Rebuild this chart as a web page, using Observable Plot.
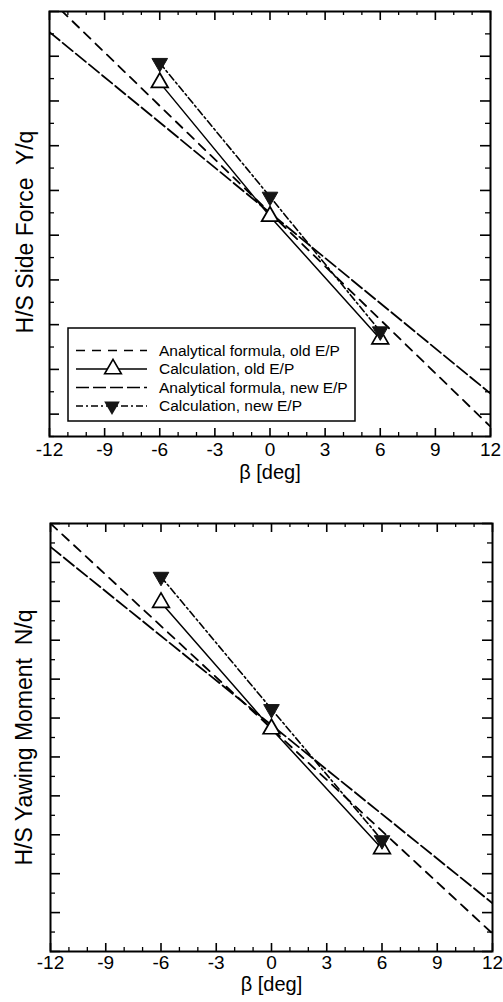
<!DOCTYPE html>
<html><head><meta charset="utf-8">
<script src="https://cdn.jsdelivr.net/npm/d3@7"></script>
<script src="https://cdn.jsdelivr.net/npm/@observablehq/plot@0.6"></script>
<style>
body{margin:0;background:#fff;overflow:hidden;}
#chart{width:503px;}
svg{display:block;}
svg text{white-space:pre;}
</style></head><body><div id="chart"></div>
<script>
// ---- data (arbitrary y units; y axis has no labels) ----
const beta = [-6, 0, 6];
const betaRange = [-12, 12];
const sideCalcOld = [7.41, 4.42, 1.68];
const sideCalcNew = [7.85, 4.86, 1.85];
const sideAnaOld = [9.28, -0.28];
const sideAnaNew = [8.54, 0.46];
const yawCalcOld = [8.97, 5.72, 2.64];
const yawCalcNew = [9.63, 6.23, 2.86];
const yawAnaOld = [11.0, 0.46];
const yawAnaNew = [10.40, 1.24];
const xTicks = [-12, -9, -6, -3, 0, 3, 6, 9, 12];
const xMinorTicks = [-11, -10, -8, -7, -5, -4, -2, -1, 1, 2, 4, 5, 7, 8, 10, 11];
const sideMajor = [0, 1, 2, 3, 4, 5, 6, 7, 8, 9];
const sideMinor = [-0.5, 0.5, 1.5, 2.5, 3.5, 4.5, 5.5, 6.5, 7.5, 8.5];
const yawMajor = [0, 1, 2, 3, 4, 5, 6, 7, 8, 9, 10, 11];
const yawMinor = [0.5, 1.5, 2.5, 3.5, 4.5, 5.5, 6.5, 7.5, 8.5, 9.5, 10.5];
const seriesNames = ["Analytical formula, old E/P", "Calculation, old E/P", "Analytical formula, new E/P", "Calculation, new E/P"];
const xLabel = "β [deg]";
const sideLabel = "H/S Side Force  Y/q";
const yawLabel = "H/S Yawing Moment  N/q";

const FONT = "'Liberation Sans', Arial, Helvetica, sans-serif";
const DASH_OLD = "9,7";
const DASH_NEW = "13,4";
const DASH_DOT = "7,3,2,3";

function panel(o) {
  const W = 503;
  const innerH = o.height - o.mt - o.mb;
  const innerW = W - o.ml - o.mr;
  const pts = (vals) => beta.map((b, i) => ({b, v: vals[i]}));
  const ends = (vals) => betaRange.map((b, i) => ({b, v: vals[i]}));
  return Plot.plot({
    width: W, height: o.height,
    marginTop: o.mt, marginBottom: o.mb, marginLeft: o.ml, marginRight: o.mr,
    style: {fontFamily: FONT, fontSize: "19px", color: "black", background: "white", overflow: "visible"},
    x: {domain: [-12, 12]},
    y: {domain: o.domain},
    marks: [
      Plot.line(ends(o.anaOld), {x: "b", y: "v", stroke: "black", strokeWidth: 1.8, strokeDasharray: DASH_OLD, clip: true}),
      Plot.line(ends(o.anaNew), {x: "b", y: "v", stroke: "black", strokeWidth: 1.8, strokeDasharray: DASH_NEW, clip: true}),
      Plot.line(pts(o.calcOld), {x: "b", y: "v", stroke: "black", strokeWidth: 1.5}),
      Plot.line(pts(o.calcNew), {x: "b", y: "v", stroke: "black", strokeWidth: 1.6, strokeDasharray: DASH_DOT}),
      Plot.dot(pts(o.calcOld), {x: "b", y: "v", symbol: "triangle", r: 6.2, fill: "white", stroke: "black", strokeWidth: 1.7}),
      Plot.dot(pts(o.calcNew), {x: "b", y: "v", symbol: "triangle", rotate: 180, r: 5.8, fill: "#151515", stroke: "#151515", strokeWidth: 1}),
      // inward ticks on all four sides
      Plot.tickX(xTicks, {x: d => d, stroke: "black", strokeWidth: 1.6, insetTop: innerH - 8}),
      Plot.tickX(xMinorTicks, {x: d => d, stroke: "black", strokeWidth: 1.3, insetTop: innerH - 4}),
      Plot.tickX(xTicks, {x: d => d, stroke: "black", strokeWidth: 1.6, insetBottom: innerH - 9}),
      Plot.tickX(xMinorTicks, {x: d => d, stroke: "black", strokeWidth: 1.3, insetBottom: innerH - 4}),
      Plot.tickY(o.major, {y: d => d, stroke: "black", strokeWidth: 1.6, insetRight: innerW - 10}),
      Plot.tickY(o.minor, {y: d => d, stroke: "black", strokeWidth: 1.3, insetRight: innerW - 5}),
      Plot.tickY(o.major, {y: d => d, stroke: "black", strokeWidth: 1.6, insetLeft: innerW - 10}),
      Plot.tickY(o.minor, {y: d => d, stroke: "black", strokeWidth: 1.3, insetLeft: innerW - 5}),
      Plot.frame({stroke: "black", strokeWidth: 2}),
      Plot.axisX({ticks: xTicks, tickSize: 0, tickPadding: o.tickPad, tickFormat: d => String(d), fontSize: 19, label: null}),
      Plot.axisY({ticks: [], label: null}),
      Plot.text([xLabel], {text: d => d, frameAnchor: "bottom", textAnchor: "middle", lineAnchor: "top", dy: o.xLabelDy, fontSize: 20}),
      Plot.text([o.ylabel], {text: d => d, frameAnchor: "left", textAnchor: "middle", rotate: -90, dx: o.yLabelDx, dy: o.yLabelDy, fontSize: 23})
    ]
  });
}

const topPanel = panel({
  height: 490, mt: 11, mb: 54, ml: 49, mr: 13,
  domain: [-0.5, 9], major: sideMajor, minor: sideMinor,
  calcOld: sideCalcOld, calcNew: sideCalcNew, anaOld: sideAnaOld, anaNew: sideAnaNew,
  ylabel: sideLabel, tickPad: 6, xLabelDy: 28, yLabelDx: -24, yLabelDy: 8
});
const bottomPanel = panel({
  height: 512, mt: 33, mb: 51, ml: 50, mr: 11,
  domain: [0, 11], major: yawMajor, minor: yawMinor,
  calcOld: yawCalcOld, calcNew: yawCalcNew, anaOld: yawAnaOld, anaNew: yawAnaNew,
  ylabel: yawLabel, tickPad: 4, xLabelDy: 25, yLabelDx: -26, yLabelDy: 0
});
document.getElementById("chart").append(topPanel, bottomPanel);

// ---- legend inside the top panel ----
const lg = d3.select(topPanel).append("g").attr("font-family", FONT).attr("font-size", 15.5)
  .attr("text-anchor", "start");
lg.append("rect").attr("x", 68).attr("y", 328).attr("width", 287).attr("height", 93)
  .attr("fill", "white").attr("stroke", "black").attr("stroke-width", 1.5);
const rowY = [350.5, 369, 387.5, 406];
const rowDash = [DASH_OLD, null, DASH_NEW, DASH_DOT];
seriesNames.forEach((name, i) => {
  const y = rowY[i];
  const ln = lg.append("line").attr("x1", 76).attr("x2", 147).attr("y1", y).attr("y2", y)
    .attr("stroke", "black").attr("stroke-width", 1.6);
  if (rowDash[i]) ln.attr("stroke-dasharray", rowDash[i]);
  lg.append("text").attr("x", 159).attr("y", y).attr("dy", "0.35em")
    .attr("text-anchor", "start").text(name);
});
const tri = d3.symbol(d3.symbolTriangle, Math.PI * 6.2 * 6.2);
lg.append("path").attr("d", tri()).attr("transform", `translate(113,${rowY[1]})`)
  .attr("fill", "white").attr("stroke", "black").attr("stroke-width", 1.6);
const tri2 = d3.symbol(d3.symbolTriangle, Math.PI * 5.8 * 5.8);
lg.append("path").attr("d", tri2()).attr("transform", `translate(112,${rowY[3]}) rotate(180)`)
  .attr("fill", "#151515");
</script>
</body></html>
